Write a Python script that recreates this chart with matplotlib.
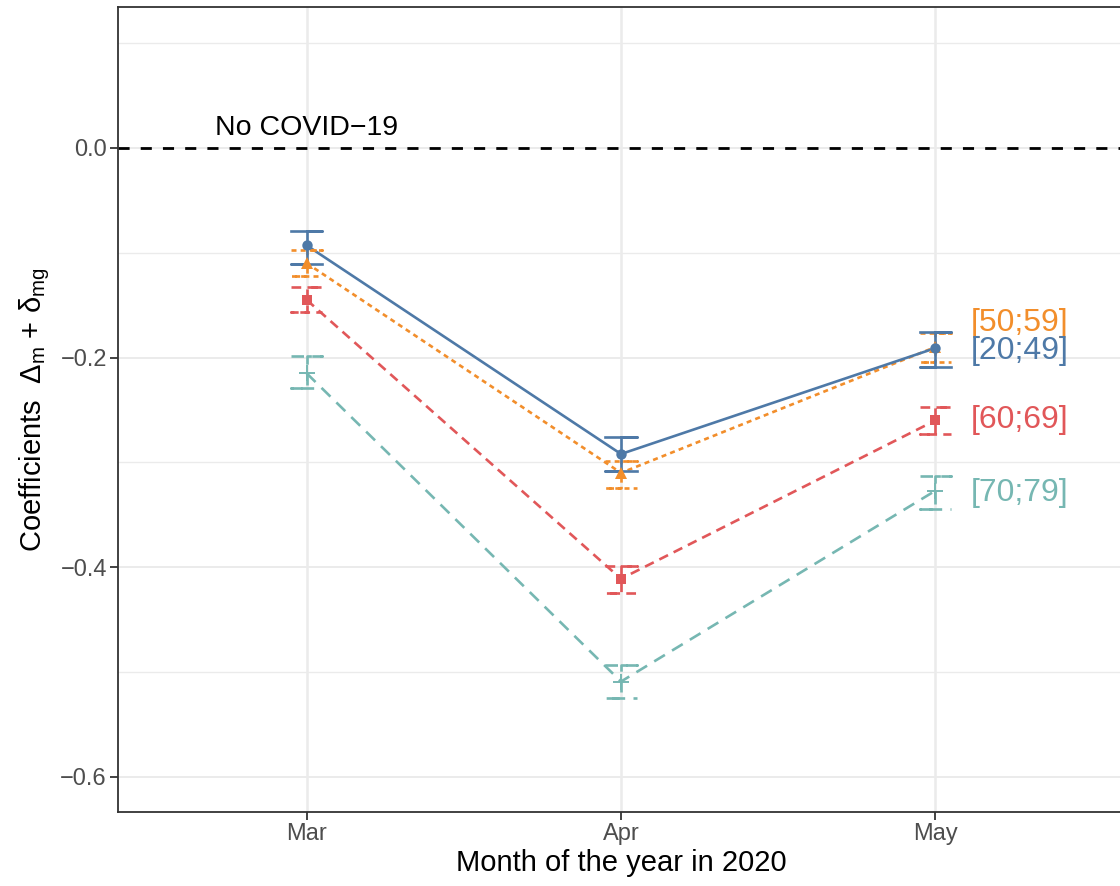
import matplotlib
matplotlib.use("Agg")
import matplotlib.pyplot as plt
import numpy as np

# ---- data ----
months = ["Mar", "Apr", "May"]
groups = ["[20;49]", "[50;59]", "[60;69]", "[70;79]"]
est = {
    "[20;49]": [-0.093, -0.292, -0.191],
    "[50;59]": [-0.110, -0.310, -0.190],
    "[60;69]": [-0.145, -0.411, -0.260],
    "[70;79]": [-0.215, -0.509, -0.327],
}
lower = {
    "[20;49]": [-0.111, -0.308, -0.209],
    "[50;59]": [-0.122, -0.324, -0.204],
    "[60;69]": [-0.157, -0.425, -0.273],
    "[70;79]": [-0.229, -0.525, -0.344],
}
upper = {
    "[20;49]": [-0.079, -0.276, -0.176],
    "[50;59]": [-0.097, -0.299, -0.177],
    "[60;69]": [-0.133, -0.399, -0.247],
    "[70;79]": [-0.199, -0.493, -0.313],
}
label_y = {"[20;49]": -0.194, "[50;59]": -0.167, "[60;69]": -0.260, "[70;79]": -0.329}
y_ticks = [0.0, -0.2, -0.4, -0.6]
y_minor = [0.1, -0.1, -0.3, -0.5]

# ---- styles ----
colors = {"[20;49]": "#4E79A7", "[50;59]": "#F28E2B", "[60;69]": "#E15759", "[70;79]": "#76B7B2"}
dashes = {"[20;49]": None, "[50;59]": (3.6, 3.0), "[60;69]": (7.0, 4.5), "[70;79]": (9.0, 6.0)}
markers = {"[20;49]": "o", "[50;59]": "^", "[60;69]": "s", "[70;79]": "+"}
msizes = {"[20;49]": 7.5, "[50;59]": 8.5, "[60;69]": 7.5, "[70;79]": 11}

plt.rcParams["font.family"] = ["Liberation Sans", "DejaVu Sans"]
plt.rcParams["mathtext.fontset"] = "custom"
plt.rcParams["mathtext.rm"] = "Liberation Sans"
plt.rcParams["mathtext.it"] = "Liberation Sans:italic"
plt.rcParams["mathtext.sf"] = "Liberation Sans"
plt.rcParams["lines.scale_dashes"] = False

fig = plt.figure(figsize=(11.2, 8.86), dpi=100)
ax = fig.add_axes([118 / 1120, 1 - 812 / 886, (1124 - 118) / 1120, (812 - 7) / 886])

x = np.arange(1, len(months) + 1)
ax.set_xlim(0.4, 3.6)
ax.set_ylim(-0.6334, 0.1343)

# grid
for yv in y_ticks:
    ax.axhline(yv, color="#EBEBEB", lw=1.4, zorder=0)
for yv in y_minor:
    ax.axhline(yv, color="#EBEBEB", lw=1.0, zorder=0)
for xv in x:
    ax.axvline(xv, color="#EBEBEB", lw=1.8, zorder=0)

# reference line
ax.axhline(0.0, color="black", lw=2.0, linestyle=(0, (8, 8)), zorder=1)
ax.text(1, 0.019, "No COVID\u221219", ha="center", va="center", fontsize=20.5, color="black")

cap = 0.05
lw = 1.9
for g in groups[::-1]:
    c = colors[g]
    ls = "-" if dashes[g] is None else (0, dashes[g])
    ax.plot(x, est[g], color=c, lw=lw, linestyle=ls, zorder=2)
    for xi, lo, hi in zip(x, lower[g], upper[g]):
        ax.plot([xi - cap, xi + cap, xi, xi, xi - cap, xi + cap],
                [hi, hi, hi, lo, lo, lo], color=c, lw=lw, linestyle=ls, zorder=3)
    mew = 1.4 if markers[g] == "+" else 0
    ax.plot(x, est[g], linestyle="none", marker=markers[g], ms=msizes[g],
            color=c, mew=mew, zorder=4)
    ax.text(3.114, label_y[g], g, color=c, fontsize=23, ha="left", va="center")

ax.set_xticks(x)
ax.set_xticklabels(months)
ax.set_yticks(y_ticks)
ax.set_yticklabels([f"{v:.1f}".replace("-", "\u2212") for v in y_ticks])
ax.tick_params(axis="both", length=5.5, width=1.3, color="#333333",
               labelcolor="#4D4D4D", labelsize=17, pad=2.5)

for s in ["left", "bottom", "top"]:
    ax.spines[s].set_color("#333333")
    ax.spines[s].set_linewidth(1.3)
ax.spines["right"].set_visible(False)

ax.set_xlabel("Month of the year in 2020", fontsize=21, color="black", labelpad=3)
ax.set_ylabel("Coefficients  \u0394$_{\\mathrm{m}}$ + \u03b4$_{\\mathrm{mg}}$", fontsize=21,
              color="black", labelpad=6)

fig.savefig("out.png", dpi=100)
